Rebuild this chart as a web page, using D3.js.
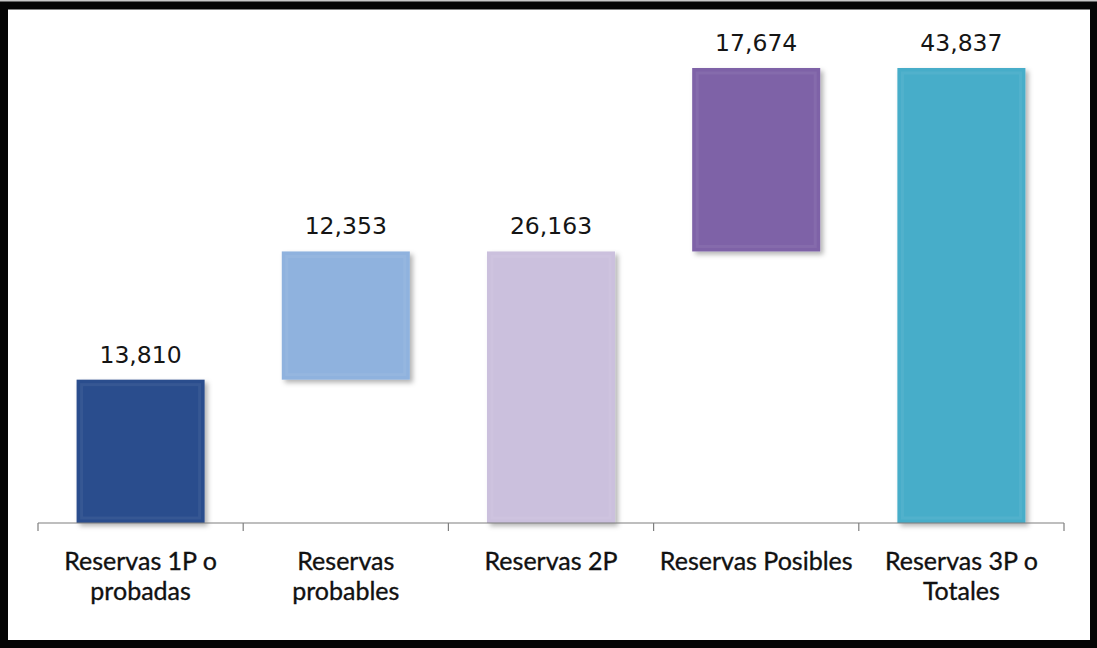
<!DOCTYPE html>
<html>
<head>
<meta charset="utf-8">
<script src="https://cdn.jsdelivr.net/npm/d3@7"></script>
<style>
html,body{margin:0;padding:0;background:#fff;}
svg{display:block;}
</style>
</head>
<body>
<svg id="chart" width="1097" height="648"></svg>
<script>
// ---- data ----
const categories = ["Reservas 1P o probadas", "Reservas probables", "Reservas 2P", "Reservas Posibles", "Reservas 3P o Totales"];
const labelLines = [["Reservas 1P o", "probadas"], ["Reservas", "probables"], ["Reservas 2P"], ["Reservas Posibles"], ["Reservas 3P o", "Totales"]];
const values = [13810, 12353, 26163, 17674, 43837];
const isTotal = [false, false, true, false, true];
const colors = ["#2c4d8d", "#8fb2de", "#cbc0dd", "#7e62a7", "#47adc9"];

// waterfall bases
let running = 0;
const bars = categories.map((c, i) => {
  let y0, y1;
  if (isTotal[i]) { y0 = 0; y1 = values[i]; running = values[i]; }
  else { y0 = running; y1 = running + values[i]; running = y1; }
  return {cat: c, lines: labelLines[i], value: values[i], y0, y1, color: colors[i]};
});

const svg = d3.select("#chart");
const W = 1097, H = 648;

// frame
svg.append("rect").attr("x", 0).attr("y", 0).attr("width", W).attr("height", H).attr("fill", "#050505");
svg.append("rect").attr("x", 0).attr("y", 0).attr("width", W).attr("height", 1.5).attr("fill", "#c8c8c8");
svg.append("rect").attr("x", 8).attr("y", 9.5).attr("width", 1082).attr("height", 630.5).attr("fill", "#fff");

const defs = svg.append("defs");
const f = defs.append("filter").attr("id", "shadow").attr("x", "-20%").attr("y", "-20%").attr("width", "140%").attr("height", "140%");
f.append("feDropShadow").attr("dx", 3).attr("dy", 3).attr("stdDeviation", 2.5).attr("flood-color", "#000").attr("flood-opacity", 0.3);

const x = d3.scaleBand().domain(categories).range([38, 1064]).paddingInner(0.376).paddingOuter(0.188);
const y = d3.scaleLinear().domain([0, 43837]).range([523, 68]);

// bars
const g = svg.append("g");
g.selectAll("rect.bar").data(bars).join("rect")
  .attr("class", "bar")
  .attr("x", d => x(d.cat))
  .attr("y", d => y(d.y1))
  .attr("width", x.bandwidth())
  .attr("height", d => y(d.y0) - y(d.y1))
  .attr("fill", d => d.color)
  .attr("filter", "url(#shadow)");

// subtle inner bevel
g.selectAll("rect.bevel").data(bars).join("rect")
  .attr("class", "bevel")
  .attr("x", d => x(d.cat) + 5)
  .attr("y", d => y(d.y1) + 5)
  .attr("width", x.bandwidth() - 10)
  .attr("height", d => y(d.y0) - y(d.y1) - 10)
  .attr("fill", "none")
  .attr("stroke", "#ffffff")
  .attr("stroke-opacity", 0.06)
  .attr("stroke-width", 3);

// value labels
g.selectAll("text.val").data(bars).join("text")
  .attr("class", "val")
  .attr("x", d => x(d.cat) + x.bandwidth() / 2)
  .attr("y", d => y(d.y1) - 17)
  .attr("text-anchor", "middle")
  .attr("font-family", "DejaVu Sans, sans-serif")
  .attr("font-size", 23.5)
  .attr("fill", "#151515")
  .text(d => d3.format(",")(d.value));

// axis
const axisG = svg.append("g").attr("transform", "translate(0,523)");
axisG.call(d3.axisBottom(x).tickSize(0).tickFormat(""));
axisG.select(".domain").attr("stroke", "#7f7f7f").attr("stroke-width", 1.2).attr("d", "M38,0H1064");
const boundaries = categories.map(c => x(c) - x.step() * x.paddingInner() / 2).concat([1064]);
boundaries[0] = 38;
axisG.selectAll("line.tk").data(boundaries).join("line")
  .attr("class", "tk")
  .attr("x1", d => d).attr("x2", d => d)
  .attr("y1", 0).attr("y2", 8)
  .attr("stroke", "#7f7f7f").attr("stroke-width", 1.2);

// category labels
const lab = svg.append("g");
bars.forEach(d => {
  const t = lab.append("text")
    .attr("x", x(d.cat) + x.bandwidth() / 2)
    .attr("y", 570)
    .attr("text-anchor", "middle")
    .attr("font-family", "Lato, sans-serif")
    .attr("font-size", 25)
    .attr("stroke", "#111")
    .attr("stroke-width", 0.35)
    .attr("fill", "#111");
  d.lines.forEach((ln, i) => {
    t.append("tspan").attr("x", x(d.cat) + x.bandwidth() / 2).attr("dy", i === 0 ? 0 : 30).text(ln);
  });
});
</script>
</body>
</html>
